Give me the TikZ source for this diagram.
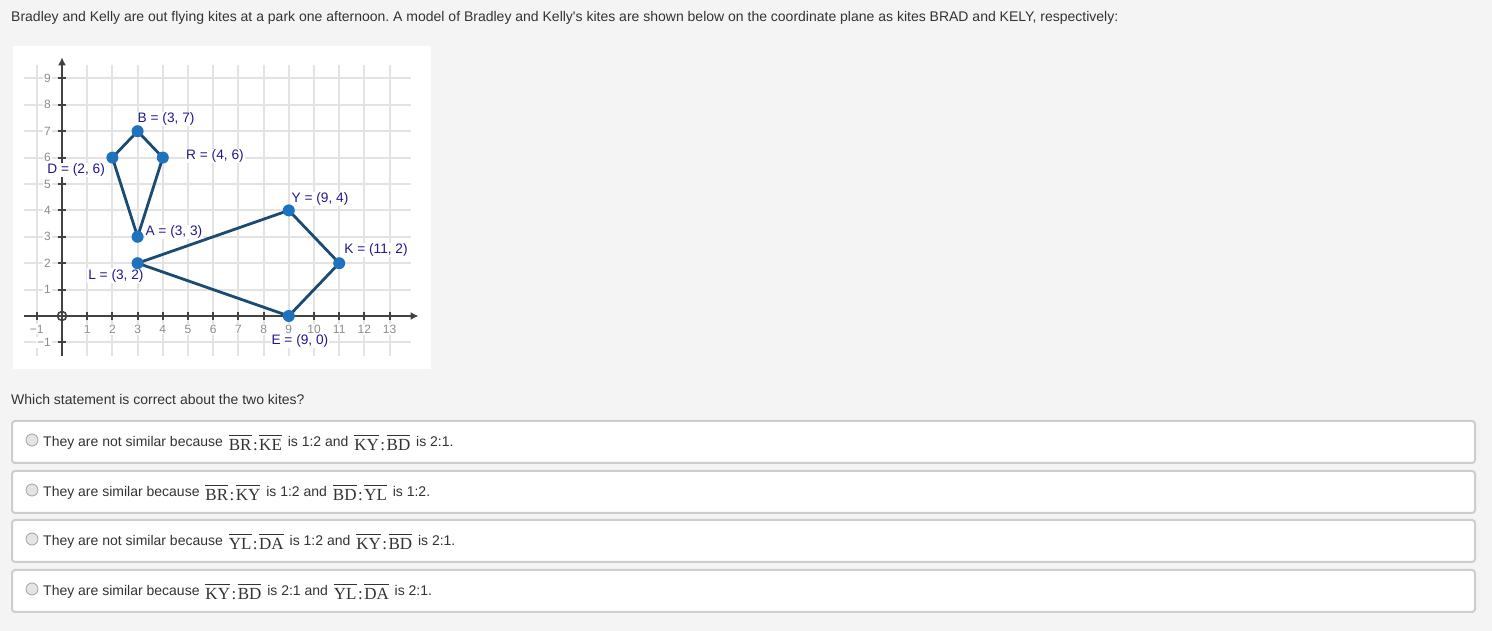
\documentclass[tikz,border=0pt]{standalone}
\usepackage{fontspec}
\setmainfont{Liberation Sans}
\newfontfamily\segfont{Liberation Serif}
\usetikzlibrary{positioning,arrows.meta}
\frenchspacing

\definecolor{pagebg}{HTML}{F4F4F4}
\definecolor{bodytext}{HTML}{333333}
\definecolor{gridline}{HTML}{E3E3E3}
\definecolor{axisline}{HTML}{424242}
\definecolor{ticktext}{HTML}{8C8C8C}
\definecolor{kiteline}{HTML}{1B4A72}
\definecolor{kitedot}{HTML}{1F72BE}
\definecolor{ptlabel}{HTML}{22188E}
\definecolor{boxline}{HTML}{CDCDCD}
\definecolor{radiofill}{HTML}{E4E4E4}

\newcommand{\seg}[1]{\vbox{\hrule height 1pt\kern 3pt\hbox{\segfont #1}}}
\newcommand{\segratio}[2]{\hspace{2pt}\raisebox{-4pt}{\fontsize{17}{19}\selectfont\seg{#1}\kern1.5pt{\segfont :}\kern1.5pt\seg{#2}}\hspace{2pt}}

\tikzset{
  gridl/.style={gridline,line width=2pt},
  axisl/.style={axisline,line width=2pt},
  kedge/.style={kiteline,line width=2.8pt,line join=round},
  kdot/.style={circle,fill=kitedot,inner sep=0pt,minimum size=12pt},
  plabel/.style={text=ptlabel,fill=white,inner sep=1pt,font=\fontsize{13.7}{15}\selectfont},
  ticklbl/.style={text=ticktext,fill=white,inner sep=1pt,font=\fontsize{12}{14}\selectfont},
  optbox/.style={draw=boxline,line width=2pt,fill=white,rounded corners=3pt,
    minimum width=1463pt,minimum height=42pt},
  radio/.style={circle,draw=boxline!80!black,fill=radiofill,line width=0.8pt,
    inner sep=0pt,minimum size=12pt},
  opttext/.style={anchor=base west,inner sep=0pt},
}

\begin{document}
\begin{tikzpicture}[x=1pt,y=1pt,font=\fontsize{14}{16}\selectfont,text=bodytext]
  \fill[pagebg] (0,0) rectangle (1492,631);
  \useasboundingbox (0,0) rectangle (1492,631);

  \node[anchor=base west,inner sep=0pt] (intro) at (11,609) {Bradley and Kelly are out flying kites at a park one afternoon. A model of Bradley and Kelly\textquotesingle s kites are shown below on the coordinate plane as kites BRAD and KELY, respectively:};

  % graph panel
  \fill[white] (13,262) rectangle (431,585);
  \begin{scope}[shift={(62,315)},x=25.2pt,y=26.4pt]
    \foreach \x in {-1,...,13}
      \draw[gridl] (\x,-1.5) -- (\x,9.5);
    \foreach \y in {-1,...,9}
      \draw[gridl] (-1.5,\y) -- (13.85,\y);
    \draw[axisl,-{Latex[length=8pt,width=8pt]}] (-1.5,0) -- (14.15,0);
    \draw[axisl,-{Latex[length=8pt,width=8pt]}] (0,-1.5) -- (0,9.8);
    \foreach \x in {1,...,13} {%
      \draw[axisl] (\x,-.15) -- (\x,.15);
      \node[ticklbl,anchor=north,yshift=-8pt] (xt\x) at (\x,0) {\x};
    }
    \draw[axisl] (-1,-.15) -- (-1,.15);
    \node[ticklbl,anchor=north,yshift=-8pt] (xtm) at (-1,0) {−1};
    \foreach \y in {1,...,9} {%
      \draw[axisl] (-.15,\y) -- (.15,\y);
      \node[ticklbl,anchor=east,xshift=-10pt] (yt\y) at (0,\y) {\y};
    }
    \draw[axisl] (-.15,-1) -- (.15,-1);
    \node[ticklbl,anchor=east,xshift=-10pt] (ytm) at (0,-1) {−1};
    \draw[axisline,line width=1.6pt] (0,0) circle (4.5pt);

    % kite BRAD
    \coordinate (B) at (3,7);
    \coordinate (R) at (4,6);
    \coordinate (A) at (3,3);
    \coordinate (D) at (2,6);
    % kite KELY
    \coordinate (K) at (11,2);
    \coordinate (E) at (9,0);
    \coordinate (L) at (3,2);
    \coordinate (Y) at (9,4);

    \node[plabel] (Blbl) at (4.13,7.46) {B = (3, 7)};
    \node[plabel] (Rlbl) at (6.07,6.06) {R = (4, 6)};
    \node[plabel] (Dlbl) at (0.56,5.53) {D = (2, 6)};
    \node[plabel] (Ylbl) at (10.24,4.43) {Y = (9, 4)};
    \node[plabel] (Albl) at (4.44,3.18) {A = (3, 3)};
    \node[plabel] (Klbl) at (12.46,2.5) {K = (11, 2)};
    \node[plabel] (Llbl) at (2.14,1.52) {L = (3, 2)};
    \node[plabel] (Elbl) at (9.44,-0.95) {E = (9, 0)};

    \draw[kedge] (B) -- (R) -- (A) -- (D) -- cycle;
    \draw[kedge] (K) -- (E) -- (L) -- (Y) -- cycle;
    \foreach \p in {B,R,A,D,K,E,L,Y}
      \node[kdot] (\p dot) at (\p) {};
  \end{scope}

  \node[anchor=base west,inner sep=0pt] (question) at (11,226) {Which statement is correct about the two kites?};

  % answer choices
  \node[optbox] (opt1) at (743.5,189) {};
  \node[optbox] (opt2) at (743.5,139) {};
  \node[optbox] (opt3) at (743.5,90) {};
  \node[optbox] (opt4) at (743.5,40) {};

  \node[radio] (r1) at ([xshift=21pt,yshift=2pt]opt1.west) {};
  \node[radio] (r2) at ([xshift=21pt,yshift=2pt]opt2.west) {};
  \node[radio] (r3) at ([xshift=21pt,yshift=2pt]opt3.west) {};
  \node[radio] (r4) at ([xshift=21pt,yshift=2pt]opt4.west) {};

  \node[opttext] (t1) at ([xshift=32pt,yshift=-4.5pt]opt1.west) {They are not similar because \segratio{BR}{KE} is 1:2 and \segratio{KY}{BD} is 2:1.};
  \node[opttext] (t2) at ([xshift=32pt,yshift=-4.5pt]opt2.west) {They are similar because \segratio{BR}{KY} is 1:2 and \segratio{BD}{YL} is 1:2.};
  \node[opttext] (t3) at ([xshift=32pt,yshift=-4.5pt]opt3.west) {They are not similar because \segratio{YL}{DA} is 1:2 and \segratio{KY}{BD} is 2:1.};
  \node[opttext] (t4) at ([xshift=32pt,yshift=-4.5pt]opt4.west) {They are similar because \segratio{KY}{BD} is 2:1 and \segratio{YL}{DA} is 2:1.};
\end{tikzpicture}
\end{document}
